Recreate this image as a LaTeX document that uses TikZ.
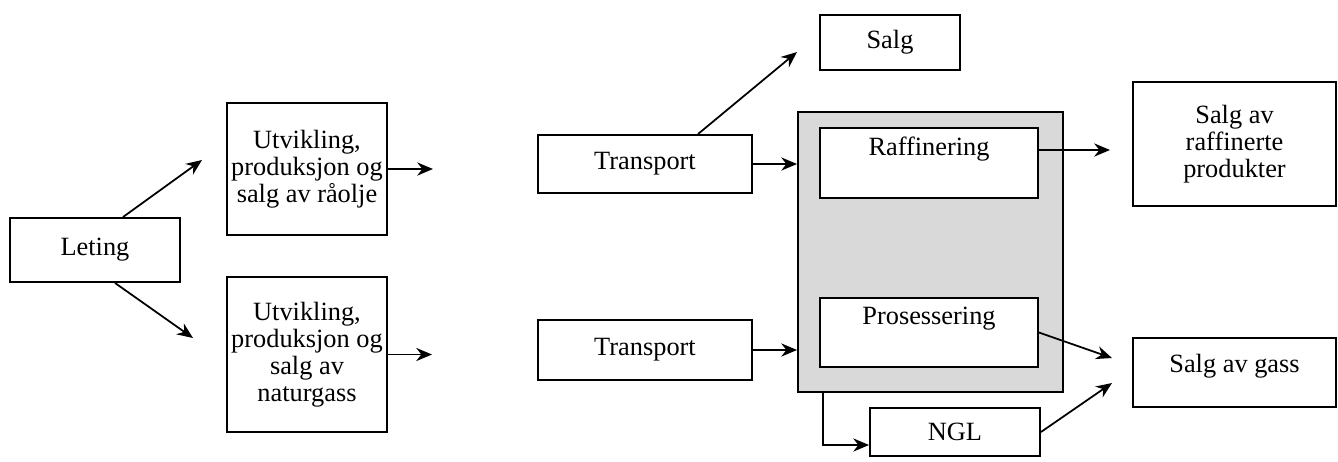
\documentclass[tikz,border=0pt]{standalone}
\usepackage{fontspec}
\setmainfont{Liberation Serif}
\usetikzlibrary{arrows.meta}
\begin{document}
\begin{tikzpicture}[x=0.02cm,y=-0.02cm,
  box/.style={draw=black,line width=1.1pt,fill=white,inner sep=0pt,align=center,
    font=\fontsize{15}{15.4}\selectfont},
  lbl/.style={inner sep=0pt,align=center,font=\fontsize{15}{15.4}\selectfont},
  arr/.style={line width=1pt,-{Stealth[length=9pt,width=7.5pt]}}]
\useasboundingbox (0,0) rectangle (1338,461);
% shaded group
\node[draw=black,line width=1.1pt,fill=gray!30,minimum width=5.3cm,minimum height=5.6cm,inner sep=0pt] (grey) at (930.5,252) {};
% boxes
\node[box,minimum width=3.4cm,minimum height=1.28cm] (let) at (95,250) {Leting};
\node[box,minimum width=3.2cm,minimum height=2.64cm] (u1) at (307,169) {Utvikling,\\produksjon og\\salg av råolje};
\node[box,minimum width=3.2cm,minimum height=3.1cm] (u2) at (307,354.5) {Utvikling,\\produksjon og\\salg av\\naturgass};
\node[box,minimum width=4.28cm,minimum height=1.16cm] (t1) at (645,164) {Transport};
\node[box,minimum width=4.28cm,minimum height=1.2cm] (t2) at (645,350) {Transport};
\node[box,minimum width=2.8cm,minimum height=1.1cm] (salg) at (890,42.5) {Salg};
\node[box,minimum width=4.36cm,minimum height=1.4cm] (raff) at (929,163) {};
\node[lbl] (raffT) at (929,149) {Raffinering};
\node[box,minimum width=4.36cm,minimum height=1.38cm] (pros) at (929,332.5) {};
\node[lbl] (prosT) at (929,319) {Prosessering};
\node[box,minimum width=3.4cm,minimum height=0.96cm] (ngl) at (955,432) {NGL};
\node[box,minimum width=4.06cm,minimum height=2.48cm] (srp) at (1234.5,144) {Salg av\\raffinerte\\produkter};
\node[box,minimum width=4.06cm,minimum height=1.38cm] (sg) at (1234.5,372.5) {};
\node[lbl] (sgT) at (1234.5,366) {Salg av gass};
% free arrow ends
\coordinate (e1) at (202,160);
\coordinate (e2) at (193,338);
\coordinate (e3) at (433,169);
\coordinate (e4) at (432,354.5);
\coordinate (e5) at (797,52);
\coordinate (e8) at (1110,150);
\coordinate (e9) at (1112,358);
\coordinate (e10) at (1112,383);
% connectors
\draw[arr] ([xshift=0.56cm]let.north) -- (e1);
\draw[arr] ([xshift=0.4cm]let.south) -- (e2);
\draw[arr] (u1.east) -- (e3);
\draw[arr] (u2.east) -- (e4);
\draw[arr] ([xshift=1.06cm]t1.north) -- (e5);
\draw[arr] (t1.east) -- (t1.east -| grey.west);
\draw[arr] (t2.east) -- (t2.east -| grey.west);
\draw[arr] ([yshift=0.26cm]raff.east) -- (e8);
\draw[arr] (pros.east) -- (e9);
\draw[arr] (ngl.east) -- (e10);
\draw[arr] ([xshift=-2.15cm]grey.south) |- ([yshift=-0.26cm]ngl.west);
\end{tikzpicture}
\end{document}
